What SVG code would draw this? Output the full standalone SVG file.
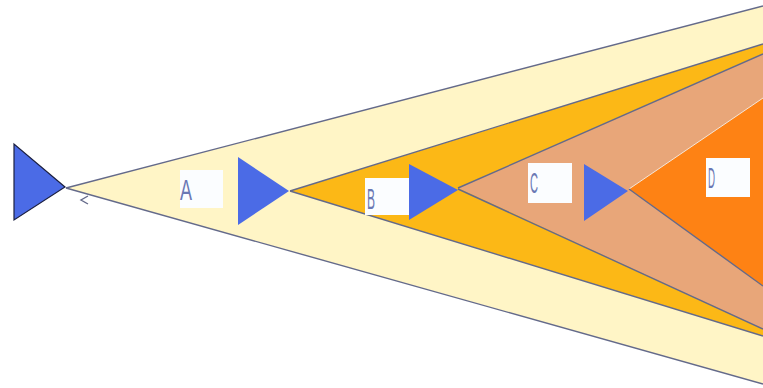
<svg xmlns="http://www.w3.org/2000/svg" width="763" height="388" viewBox="0 0 763 388">
<style>
.edge{stroke:#646a8a;stroke-width:1.4;fill:none}
.tri{fill:#4b6be6}
.box{fill:#fbfdff}
.lbl{font-family:"Liberation Sans",Arial,sans-serif;font-size:29px;fill:#6a78b4}
</style>
<rect width="763" height="388" fill="#ffffff"/>
<g id="cones">
<polygon id="cone-yellow" points="66,188 763,6 763,384" fill="#fff5c6"/>
<polygon id="cone-gold" points="290,191 763,44 763,336" fill="#fcb816"/>
<polygon id="cone-tan" points="458,188 763,54 763,329" fill="#e8a679"/>
<polygon id="cone-orange" points="629,189 763,98 763,286" fill="#fe8214"/>
</g>
<g id="connectors">
<line class="edge" x1="66" y1="188" x2="763" y2="6" stroke="#6a78a8"/>
<line class="edge" x1="66" y1="188" x2="763" y2="384"/>
<line class="edge" x1="290" y1="191" x2="763" y2="44"/>
<line class="edge" x1="290" y1="191" x2="763" y2="336"/>
<line class="edge" x1="458" y1="188" x2="763" y2="54"/>
<line class="edge" x1="458" y1="189" x2="763" y2="329"/>
<line x1="629" y1="189" x2="763" y2="98" stroke="#f4e6da" stroke-width="1"/>
<line class="edge" x1="629" y1="189" x2="763" y2="286" stroke-width="1"/>
<polyline class="edge" points="88,196 81,200 88,204" stroke-width="1.2"/>
</g>
<g id="node-source">
<polygon class="tri" points="14,144 14,220 65,187" stroke="#1c2040" stroke-width="1.2"/>
</g>
<g id="node-A">
<rect class="box" x="180" y="170" width="43" height="38"/>
<text class="lbl" x="180" y="200" textLength="12" lengthAdjust="spacingAndGlyphs">A</text>
<polygon class="tri" points="238,157 238,225 289,191"/>
</g>
<g id="node-B">
<rect class="box" x="365" y="178" width="44" height="37"/>
<text class="lbl" x="367" y="209" textLength="8" lengthAdjust="spacingAndGlyphs">B</text>
<polygon class="tri" points="409,164 409,220 458,190"/>
</g>
<g id="node-C">
<rect class="box" x="528" y="163" width="44" height="40"/>
<text class="lbl" x="530" y="193" textLength="8" lengthAdjust="spacingAndGlyphs">C</text>
<polygon class="tri" points="584,164 584,221 628,191"/>
</g>
<g id="node-D">
<rect class="box" x="706" y="158" width="44" height="39"/>
<text class="lbl" x="708" y="188" textLength="7" lengthAdjust="spacingAndGlyphs">D</text>
</g>
</svg>
